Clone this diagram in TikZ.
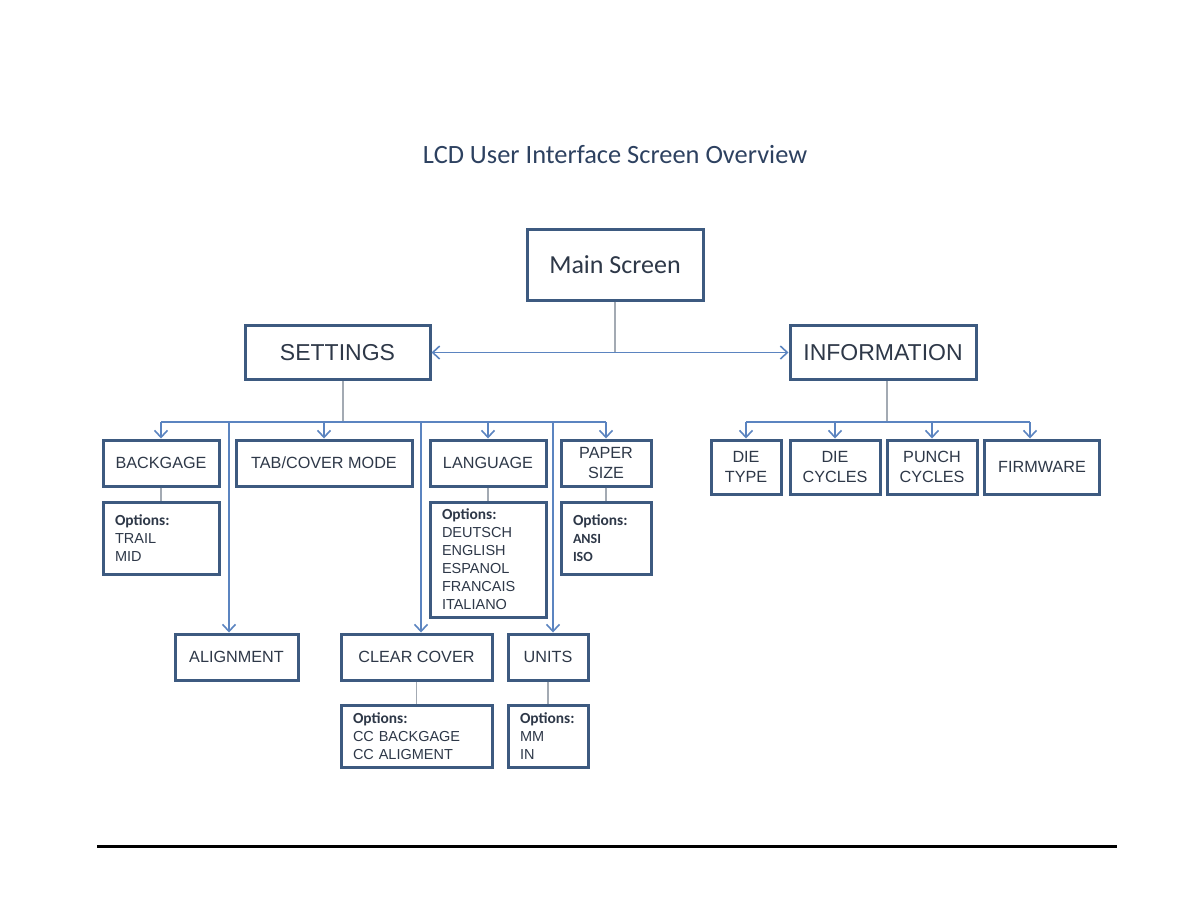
\documentclass[tikz,border=0pt]{standalone}
\usepackage{fontspec}
\setmainfont{Liberation Sans}
\newfontfamily\calibri{Carlito}
\usetikzlibrary{arrows.meta}
\definecolor{boxblue}{HTML}{3D5A80}
\definecolor{lineblue}{HTML}{5B84C0}
\definecolor{stemgray}{HTML}{A3AAB3}
\definecolor{inkdark}{HTML}{2E3848}
\definecolor{titleblue}{HTML}{2D4160}
\newcommand{\opthead}{{\calibri\bfseries\fontsize{7.7}{9}\selectfont Options:}}
\begin{document}
\begin{tikzpicture}[x=0.5pt,y=-0.5pt,>={Straight Barb[length=3.5pt,width=6.5pt]},
  box/.style={draw=boxblue,line width=1.5pt,fill=white,text=inkdark,inner sep=0pt,
    align=center,font=\fontsize{8.1}{10}\selectfont},
  optbox/.style={box,inner xsep=6pt,align=left,font=\fontsize{7.25}{9}\selectfont},
  arr/.style={->,draw=lineblue,line width=0.8pt},
  stem/.style={draw=stemgray,line width=0.6pt}]
\useasboundingbox (0,0) rectangle (1188,918);

\node[text=titleblue,font=\calibri\fontsize{13.2}{16}\selectfont] (title) at (615,155)
{LCD User Interface Screen Overview};

% top level
\node[box,minimum width=88pt,minimum height=35.5pt,font=\calibri\fontsize{13}{15}\selectfont]
  (mainscreen) at (615,264.5) {Main Screen};
\node[box,minimum width=92.5pt,minimum height=27pt,font=\fontsize{11.5}{14}\selectfont]
  (settings) at (337.5,352.5) {SETTINGS};
\node[box,minimum width=93pt,minimum height=27pt,font=\fontsize{11.5}{14}\selectfont]
  (information) at (883,352.5) {INFORMATION};

\draw[stem] (mainscreen) -- (mainscreen |- settings);
\draw[arr,<->] (settings) -- (information);

% settings menu
\node[box,minimum width=58pt,minimum height=23pt] (backgage) at (161,463) {BACKGAGE};
\node[box,minimum width=88pt,minimum height=23pt] (tabcover) at (324,463) {TAB/COVER MODE};
\node[box,minimum width=58pt,minimum height=23pt] (language) at (488,463) {LANGUAGE};
\node[box,minimum width=45pt,minimum height=23pt] (papersize) at (606,463) {PAPER\\SIZE};

\node[optbox,text width=46pt,minimum height=36pt] (backopt) at (161,538)
{\opthead\\TRAIL\\MID};
\node[optbox,text width=46pt,minimum height=57.5pt] (langopt) at (488,559.5)
{\opthead\\DEUTSCH\\ENGLISH\\ESPANOL\\FRANCAIS\\ITALIANO};
\node[optbox,text width=33pt,minimum height=36pt,font=\calibri\bfseries\fontsize{7}{9}\selectfont]
  (paperopt) at (606,538) {\opthead\\ANSI\\ISO};

\node[box,minimum width=61.5pt,minimum height=23pt] (alignment) at (236.5,657) {ALIGNMENT};
\node[box,minimum width=75.5pt,minimum height=23pt] (clearcover) at (416.5,657) {CLEAR COVER};
\node[box,minimum width=40pt,minimum height=23pt] (units) at (548,657) {UNITS};

\node[optbox,text width=63.5pt,minimum height=31pt] (ccopt) at (416.5,736)
{\opthead\\CC BACKGAGE\\CC ALIGMENT};
\node[optbox,text width=28pt,minimum height=31pt] (unitopt) at (548,736)
{\opthead\\MM\\IN};

\coordinate (sbus) at (343,422);
\coordinate (alidrop) at (229,422);
\coordinate (ccdrop) at (421,422);
\coordinate (unitdrop) at (553,422);

\draw[stem] (sbus |- settings.south) -- (sbus);
\draw[draw=lineblue,line width=0.8pt] (backgage.north |- sbus) -- (papersize.north |- sbus);
\draw[arr] (backgage.north |- sbus) -- (backgage);
\draw[arr] (tabcover.north |- sbus) -- (tabcover);
\draw[arr] (language.north |- sbus) -- (language);
\draw[arr] (papersize.north |- sbus) -- (papersize);
\draw[arr] (alidrop) -- (alidrop |- alignment.north);
\draw[arr] (ccdrop) -- (ccdrop |- clearcover.north);
\draw[arr] (unitdrop) -- (unitdrop |- units.north);

\draw[stem] (backgage) -- (backopt);
\draw[stem] (language) -- (langopt);
\draw[stem] (papersize) -- (paperopt);
\draw[stem] (clearcover) -- (ccopt);
\draw[stem] (units) -- (unitopt);

% information menu
\node[box,minimum width=35pt,minimum height=27pt] (dietype) at (746,467) {DIE\\TYPE};
\node[box,minimum width=45pt,minimum height=27pt] (diecycles) at (835,467) {DIE\\CYCLES};
\node[box,minimum width=45pt,minimum height=27pt] (punchcycles) at (932,467) {PUNCH\\CYCLES};
\node[box,minimum width=57.5pt,minimum height=27pt] (firmware) at (1042,467) {FIRMWARE};

\coordinate (ibus) at (887,422);
\coordinate (fwdrop) at (1030,422);

\draw[stem] (ibus |- information.south) -- (ibus);
\draw[draw=lineblue,line width=0.8pt] (dietype.north |- ibus) -- (fwdrop);
\draw[arr] (dietype.north |- ibus) -- (dietype);
\draw[arr] (diecycles.north |- ibus) -- (diecycles);
\draw[arr] (punchcycles.north |- ibus) -- (punchcycles);
\draw[arr] (fwdrop) -- (fwdrop |- firmware.north);

% page rule
\draw[line width=1.5pt] (97,846) -- (1117,846);
\end{tikzpicture}
\end{document}
